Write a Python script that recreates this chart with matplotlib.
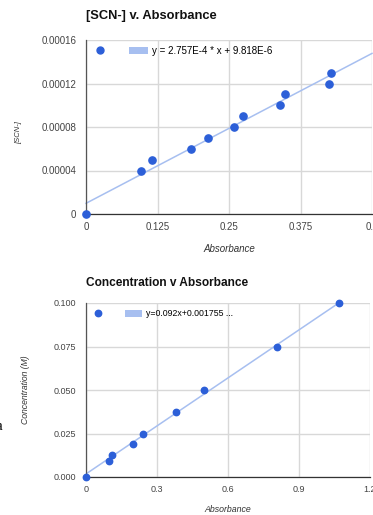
import matplotlib
matplotlib.use("Agg")
import matplotlib.pyplot as plt
from matplotlib.lines import Line2D
from matplotlib.patches import Patch
import numpy as np

plt.rcParams['font.family'] = ['Liberation Sans', 'DejaVu Sans']

# [SCN-] calibration readings
scn_abs = [0.0, 0.096, 0.116, 0.184, 0.214, 0.259, 0.275, 0.340, 0.348, 0.424, 0.428]
scn_conc = [0.0, 0.00004, 0.00005, 0.00006, 0.00007, 0.00008, 0.00009, 0.00010, 0.00011, 0.00012, 0.00013]
scn_slope, scn_icept = 2.757e-4, 9.818e-6
scn_xticks = [0, 0.125, 0.25, 0.375, 0.5]
scn_xlabels = ['0', '0.125', '0.25', '0.375', '0.5']
scn_yticks = [0, 0.00004, 0.00008, 0.00012, 0.00016]
scn_ylabels = ['0', '0.00004', '0.00008', '0.00012', '0.00016']

# concentration readings
conc_abs = [0.0, 0.099, 0.111, 0.197, 0.242, 0.380, 0.499, 0.805, 1.068]
conc_m = [0.0, 0.009375, 0.0125, 0.01875, 0.025, 0.0375, 0.05, 0.075, 0.1]
conc_slope, conc_icept = 0.092, 0.001755
conc_xticks = [0, 0.3, 0.6, 0.9, 1.2]
conc_xlabels = ['0', '0.3', '0.6', '0.9', '1.2']
conc_yticks = [0, 0.025, 0.05, 0.075, 0.1]
conc_ylabels = ['0.000', '0.025', '0.050', '0.075', '0.100']

W, H = 373, 515
dot = '#2c5fd8'
trend = '#a7bff0'
grid = '#d8d8d8'

fig = plt.figure(figsize=(W / 100, H / 100), dpi=100)


def px_axes(l, t, r, b):
    return fig.add_axes([l / W, 1 - b / H, (r - l) / W, (b - t) / H])


def style(ax, xt, xl, yt, yl, fs):
    ax.set_xticks(xt)
    ax.set_xticklabels(xl)
    ax.set_yticks(yt)
    ax.set_yticklabels(yl)
    ax.set_xlim(xt[0], xt[-1])
    ax.set_ylim(yt[0], yt[-1])
    ax.tick_params(length=0, labelsize=fs, colors='#444444')
    ax.tick_params(axis='y', pad=7)
    ax.tick_params(axis='x', pad=6)
    ax.grid(True, color=grid, lw=1.0)
    ax.set_axisbelow(True)
    for s in ['top', 'right']:
        ax.spines[s].set_visible(False)
    ax.spines['left'].set_color('#555555')
    ax.spines['bottom'].set_color('#333333')
    ax.spines['left'].set_linewidth(0.9)
    ax.spines['bottom'].set_linewidth(0.9)


# top chart
ax1 = px_axes(86, 40, 372, 214)
style(ax1, scn_xticks, scn_xlabels, scn_yticks, scn_ylabels, 7)
xs = np.array([0, 0.5])
ax1.plot(xs, scn_slope * xs + scn_icept, color=trend, lw=1.1, zorder=2, clip_on=False)
ax1.plot(scn_abs, scn_conc, 'o', color=dot, ms=5.2, zorder=3, clip_on=False)
h = [Line2D([], [], ls='', marker='o', color=dot, ms=5),
     Patch(facecolor=trend, edgecolor='none')]
ax1.legend(h, ['', 'y = 2.757E-4 * x + 9.818E-6'], loc='upper left',
           bbox_to_anchor=(86 / W, 1 - 42 / H), bbox_transform=fig.transFigure,
           ncol=2, frameon=False, fontsize=7, handlelength=2.0, handleheight=0.8,
           handletextpad=0.4, columnspacing=1.6, borderaxespad=0)
fig.text(86 / W, 1 - 16 / H, '[SCN-] v. Absorbance', fontsize=9.3,
         fontweight='bold', va='center', ha='left', color='#111111')
fig.text(19 / W, 1 - 133 / H, '[SCN-]', fontsize=5.5, style='italic',
         rotation=90, va='center', ha='center', color='#333333')
fig.text(229 / W, 1 - 249 / H, 'Absorbance', fontsize=7, style='italic',
         va='center', ha='center', color='#333333')

# bottom chart
ax2 = px_axes(86, 303, 370, 477)
style(ax2, conc_xticks, conc_xlabels, conc_yticks, conc_ylabels, 6.5)
xs = np.array([0, max(conc_abs)])
ax2.plot(xs, conc_slope * xs + conc_icept, color=trend, lw=1.1, zorder=2)
ax2.plot(conc_abs, conc_m, 'o', color=dot, ms=4.6, zorder=3, clip_on=False)
h = [Line2D([], [], ls='', marker='o', color=dot, ms=4.6),
     Patch(facecolor=trend, edgecolor='none')]
ax2.legend(h, ['', 'y=0.092x+0.001755 ...'], loc='upper left',
           bbox_to_anchor=(86 / W, 1 - 306 / H), bbox_transform=fig.transFigure,
           ncol=2, frameon=False, fontsize=6.3, handlelength=2.0, handleheight=0.8,
           handletextpad=0.4, columnspacing=1.6, borderaxespad=0)
fig.text(86 / W, 1 - 283 / H, 'Concentration v Absorbance', fontsize=8.6,
         fontweight='bold', va='center', ha='left', color='#111111')
fig.text(26 / W, 1 - 390 / H, 'Concentration (M)', fontsize=6.2, style='italic',
         rotation=90, va='center', ha='center', color='#333333')
fig.text(228 / W, 1 - 510 / H, 'Absorbance', fontsize=6.3, style='italic',
         va='center', ha='center', color='#333333')

# stray serif letter at the far left margin
fig.text(-4 / W, 1 - 427 / H, 'a', fontsize=11, family='Liberation Serif',
         va='center', ha='left', color='black')

fig.savefig('out.png', dpi=100)
